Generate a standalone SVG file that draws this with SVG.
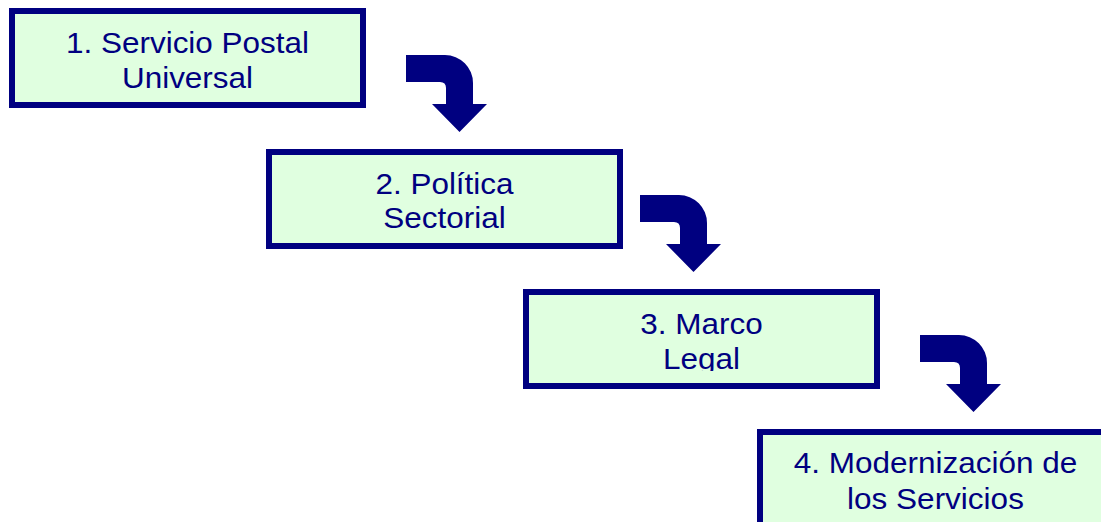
<svg xmlns="http://www.w3.org/2000/svg" width="1101" height="522" viewBox="0 0 1101 522">
  <style>
    .box { fill: #E0FFE0; stroke: #000080; stroke-width: 6; }
    .lbl { font-family: "Liberation Sans", Arial, sans-serif; font-size: 29px; fill: #000080; text-anchor: middle; }
    .arrow { fill: #000080; }
  </style>
  <defs>
    <path id="bend" d="M0,0 H39 A28,28 0 0 1 67,28 V49 H81 L53.5,77 L26,49 H40 V33 Q40,27 34,27 H0 Z"/>
    <clipPath id="clip3"><rect x="520" y="285" width="365" height="86"/></clipPath>
  </defs>
  <rect width="1101" height="522" fill="#FFFFFF"/>
  <g id="connectors" class="arrow">
    <use href="#bend" x="406" y="55"/>
    <use href="#bend" x="640" y="195"/>
    <use href="#bend" x="920" y="335"/>
  </g>
  <g id="node1">
    <rect class="box" x="12" y="11" width="351" height="94"/>
    <text class="lbl" x="187.5" y="52.5" textLength="243" lengthAdjust="spacingAndGlyphs">1. Servicio Postal</text>
    <text class="lbl" x="187.5" y="88" textLength="131" lengthAdjust="spacingAndGlyphs">Universal</text>
  </g>
  <g id="node2">
    <rect class="box" x="269" y="152" width="351" height="94"/>
    <text class="lbl" x="444.5" y="193.5" textLength="138" lengthAdjust="spacingAndGlyphs">2. Política</text>
    <text class="lbl" x="444.5" y="228" textLength="122.5" lengthAdjust="spacingAndGlyphs">Sectorial</text>
  </g>
  <g id="node3">
    <rect class="box" x="526" y="292" width="351" height="94"/>
    <g clip-path="url(#clip3)">
      <text class="lbl" x="701.5" y="333.5" textLength="122.5" lengthAdjust="spacingAndGlyphs">3. Marco</text>
      <text class="lbl" x="701.5" y="369" textLength="77" lengthAdjust="spacingAndGlyphs">Legal</text>
    </g>
  </g>
  <g id="node4">
    <rect class="box" x="760" y="432" width="351" height="94"/>
    <text class="lbl" x="935.5" y="473" textLength="283.6" lengthAdjust="spacingAndGlyphs">4. Modernización de</text>
    <text class="lbl" x="935.5" y="509" textLength="176.8" lengthAdjust="spacingAndGlyphs">los Servicios</text>
  </g>
</svg>
